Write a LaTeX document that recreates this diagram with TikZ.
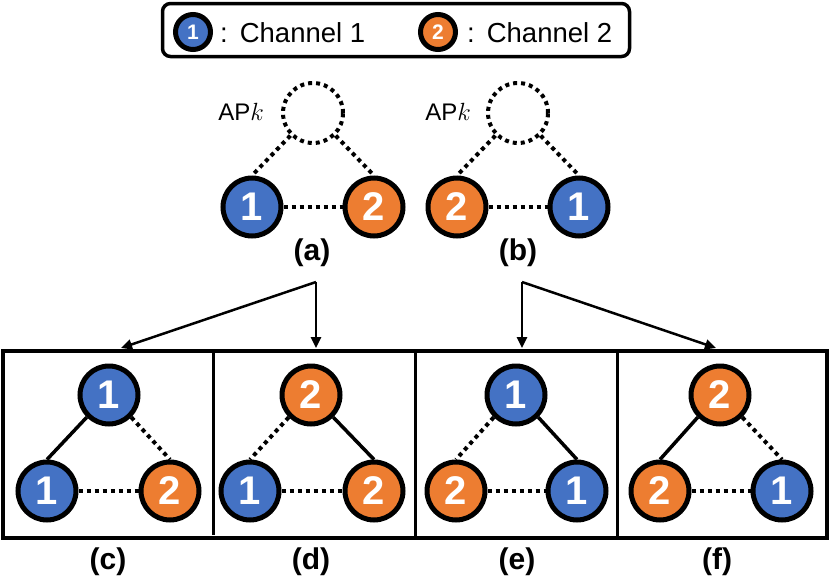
\documentclass[tikz,border=0pt]{standalone}
\usepackage{fontspec}
\setmainfont{Liberation Sans}
\usetikzlibrary{arrows.meta}
\definecolor{chblue}{HTML}{4472C4}
\definecolor{chorange}{HTML}{ED7D31}
\begin{document}
\begin{tikzpicture}[x=1pt,y=-1pt,
  ch/.style={circle, minimum size=58pt, inner sep=0pt, line width=5pt, draw=black, text=white, font=\fontsize{40}{40}\selectfont\bfseries},
  chA/.style={ch, fill=chblue},
  chB/.style={ch, fill=chorange},
  lg/.style={circle, minimum size=35pt, inner sep=0pt, line width=5pt, draw=black, text=white, font=\fontsize{21}{21}\selectfont\bfseries},
  apc/.style={circle, minimum size=60pt, inner sep=0pt, draw, line width=4pt, dash pattern=on 4pt off 4pt},
  dotl/.style={line width=4pt, dash pattern=on 4pt off 4pt},
  sol/.style={line width=3.5pt},
  lab/.style={font=\fontsize{30}{30}\selectfont\bfseries},
  arr/.style={line width=2.5pt, -{Triangle[length=11pt,width=10pt]}},
  legtxt/.style={anchor=west, inner sep=0pt, font=\fontsize{27.5}{27.5}\selectfont},
  aptxt/.style={anchor=east, inner sep=0pt, font=\fontsize{24}{24}\selectfont},
]
\useasboundingbox (0,0) rectangle (830,581);

% legend
\node[draw, rounded corners=8pt, line width=3.5pt, minimum width=467pt, minimum height=53pt, inner sep=0pt] (legend) at (396,30) {};
\node[lg, fill=chblue] (lg1) at (193,32) {1};
\node[legtxt] (lt1) at (220,33) {:\hspace{12pt}Channel 1};
\node[lg, fill=chorange] (lg2) at (438,32) {2};
\node[legtxt] (lt2) at (467,33) {:\hspace{12pt}Channel 2};

% (a)
\node[apc] (apa) at (313,113) {};
\node[aptxt] (apat) at (264,112) {AP$k$};
\node[chA] (a1) at (252,207) {1};
\node[chB] (a2) at (374,207) {2};
\draw[dotl] (apa.225) -- (a1.north);
\draw[dotl] (apa.315) -- (a2.north);
\draw[dotl] (a1.east) -- (a2.west);
\node[lab] (la) at (312,253) {(a)};

% (b)
\node[apc] (apb) at (518,113) {};
\node[aptxt] (apbt) at (471,112) {AP$k$};
\node[chB] (b2) at (457,207) {2};
\node[chA] (b1) at (579,207) {1};
\draw[dotl] (apb.225) -- (b2.north);
\draw[dotl] (apb.315) -- (b1.north);
\draw[dotl] (b2.east) -- (b1.west);
\node[lab] (lb) at (518,253) {(b)};

% arrows
\coordinate (pa) at (316,282);
\coordinate (pb) at (522,282);
\coordinate (tc) at (121,348);
\coordinate (td) at (316,348);
\coordinate (te) at (522,348);
\coordinate (tf) at (716,348);
\draw[arr] (pa) -- (tc);
\draw[arr] (pa) -- (td);
\draw[arr] (pb) -- (te);
\draw[arr] (pb) -- (tf);

% frame
\draw[line width=3.5pt] (3,351) rectangle (827,538);
\draw[line width=3pt] (213,351) -- (213,535);
\draw[line width=3pt] (415,351) -- (415,538);
\draw[line width=3pt] (617,351) -- (617,538);

% (c)
\node[chA] (ct) at (109,395) {1};
\node[chA] (cl) at (47,491) {1};
\node[chB] (cr) at (170,491) {2};
\draw[sol] (ct.225) -- (cl.north);
\draw[dotl] (ct.315) -- (cr.north);
\draw[dotl] (cl.east) -- (cr.west);
\node[lab] (lc) at (108,562) {(c)};

% (d)
\node[chB] (dt) at (311,395) {2};
\node[chA] (dl) at (250,491) {1};
\node[chB] (dr) at (374,491) {2};
\draw[dotl] (dt.225) -- (dl.north);
\draw[sol] (dt.315) -- (dr.north);
\draw[dotl] (dl.east) -- (dr.west);
\node[lab] (ld) at (311,562) {(d)};

% (e)
\node[chA] (et) at (516,395) {1};
\node[chB] (el) at (456,491) {2};
\node[chA] (er) at (577,491) {1};
\draw[dotl] (et.225) -- (el.north);
\draw[sol] (et.315) -- (er.north);
\draw[dotl] (el.east) -- (er.west);
\node[lab] (le) at (517,562) {(e)};

% (f)
\node[chB] (ft) at (720,395) {2};
\node[chB] (fl) at (660,491) {2};
\node[chA] (fr) at (782,491) {1};
\draw[sol] (ft.225) -- (fl.north);
\draw[dotl] (ft.315) -- (fr.north);
\draw[dotl] (fl.east) -- (fr.west);
\node[lab] (lf) at (717,562) {(f)};
\end{tikzpicture}
\end{document}
